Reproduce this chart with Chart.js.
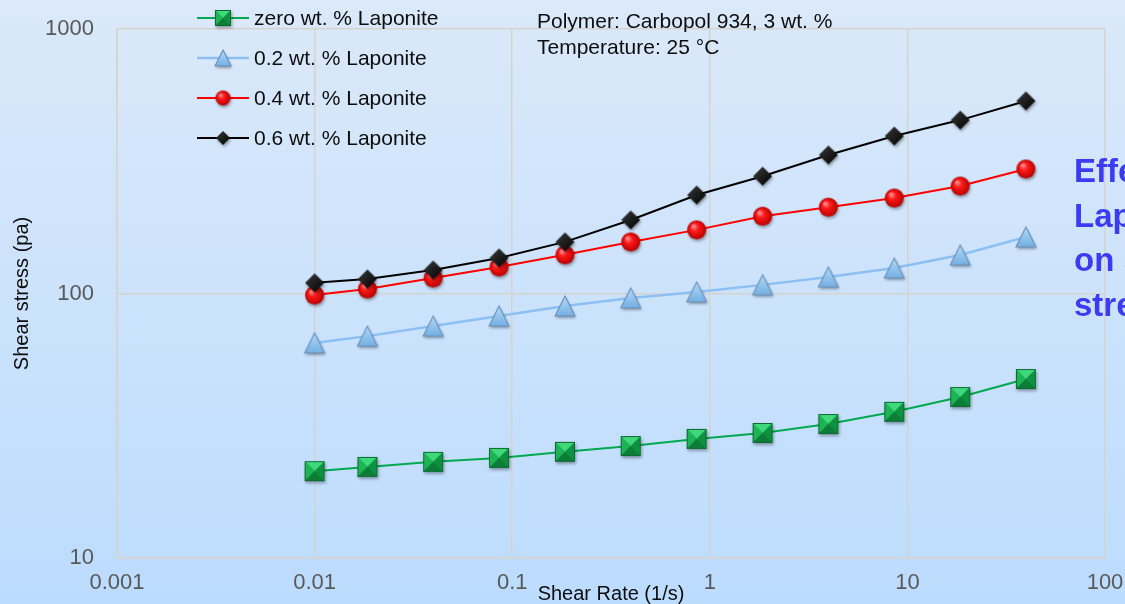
<!DOCTYPE html>
<html>
<head>
<meta charset="utf-8">
<title>Shear stress vs shear rate</title>
<script src="https://cdn.jsdelivr.net/npm/chart.js@4/dist/chart.umd.min.js"></script>
<style>
  html, body { margin: 0; padding: 0; background: #cfe3fb; }
  #wrap { width: 1125px; height: 604px; }
</style>
</head>
<body>
<div id="wrap"><canvas id="chart" width="1125" height="604"></canvas></div>
<script>
// Shear rate (1/s) at which each stress was measured
const shearRate = [0.01, 0.0185, 0.0398, 0.0858, 0.185, 0.398, 0.858, 1.85, 3.98, 8.58, 18.5, 39.8];

// Shear stress (Pa) for each Laponite loading
const stressZero = [21.3, 22.1, 23.1, 23.9, 25.2, 26.5, 28.2, 29.7, 32.1, 35.7, 40.6, 47.5];
const stress02 = [65.0, 69.0, 75.3, 82.2, 89.7, 96.2, 101.4, 107.8, 115.4, 124.8, 139.8, 163.6];
const stress04 = [98.7, 104, 114.5, 126, 140, 156.7, 174, 196, 212, 229.6, 254.8, 295.6];
const stress06 = [109.7, 113.5, 122.7, 136.3, 156.7, 189.7, 235.6, 277.7, 334, 393.9, 452.5, 534.6];

const seriesLabels = ['zero wt. % Laponite', '0.2 wt. % Laponite', '0.4 wt. % Laponite', '0.6 wt. % Laponite'];

// Axis ticks
const xTickValues = [0.001, 0.01, 0.1, 1, 10, 100];
const xTickLabels = ['0.001', '0.01', '0.1', '1', '10', '100'];
const yTickValues = [10, 100, 1000];
const yTickLabels = ['10', '100', '1000'];

const xTitle = 'Shear Rate (1/s)';
const yTitle = 'Shear stress (pa)';
const noteLines = ['Polymer: Carbopol 934, 3 wt. %', 'Temperature: 25 \u00B0C'];
const sideTitleLines = ['Effect of', 'Laponite', 'on shear', 'stress'];

const FONT = "'Liberation Sans', Arial, Helvetica, sans-serif";

// ---- Bevelled marker images ----
function markerCanvas(kind, s) {
  const pad = 6;
  const c = document.createElement('canvas');
  c.width = s + pad * 2;
  c.height = s + pad * 2;
  const g = c.getContext('2d');
  const cx = c.width / 2, cy = c.height / 2, h = s / 2;
  g.save();
  g.shadowColor = 'rgba(0,0,0,0.35)';
  g.shadowBlur = 3;
  g.shadowOffsetX = 1;
  g.shadowOffsetY = 2;
  if (kind === 'square') {
    g.fillStyle = '#109a45';
    g.fillRect(cx - h, cy - h, s, s);
    g.restore();
    const facets = [
      ['#3fd97b', [[-h, -h], [h, -h]]],
      ['#1cb455', [[-h, -h], [-h, h]]],
      ['#0f9142', [[h, -h], [h, h]]],
      ['#0b7d37', [[-h, h], [h, h]]]
    ];
    facets.forEach(([col, [a, b]]) => {
      g.beginPath();
      g.moveTo(cx + a[0], cy + a[1]);
      g.lineTo(cx + b[0], cy + b[1]);
      g.lineTo(cx, cy);
      g.closePath();
      g.fillStyle = col;
      g.fill();
    });
    g.strokeStyle = '#0b6a30';
    g.lineWidth = 1;
    g.strokeRect(cx - h + 0.5, cy - h + 0.5, s - 1, s - 1);
  } else if (kind === 'triangle') {
    g.beginPath();
    g.moveTo(cx, cy - h);
    g.lineTo(cx + h, cy + h);
    g.lineTo(cx - h, cy + h);
    g.closePath();
    const gr = g.createLinearGradient(0, cy - h, 0, cy + h);
    gr.addColorStop(0, '#b3daf9');
    gr.addColorStop(1, '#74afe3');
    g.fillStyle = gr;
    g.fill();
    g.restore();
    g.strokeStyle = '#6a90b8';
    g.lineWidth = 1.1;
    g.stroke();
  } else if (kind === 'circle') {
    g.beginPath();
    g.arc(cx, cy, h, 0, Math.PI * 2);
    const gr = g.createRadialGradient(cx - h * 0.35, cy - h * 0.4, h * 0.1, cx, cy, h);
    gr.addColorStop(0, '#ff8a8a');
    gr.addColorStop(0.35, '#ff1a1a');
    gr.addColorStop(1, '#b80000');
    g.fillStyle = gr;
    g.fill();
    g.restore();
  } else if (kind === 'diamond') {
    g.beginPath();
    g.moveTo(cx, cy - h);
    g.lineTo(cx + h, cy);
    g.lineTo(cx, cy + h);
    g.lineTo(cx - h, cy);
    g.closePath();
    const gr = g.createLinearGradient(cx - h, cy - h, cx + h, cy + h);
    gr.addColorStop(0, '#3a3a3a');
    gr.addColorStop(1, '#000000');
    g.fillStyle = gr;
    g.fill();
    g.restore();
  }
  return c;
}

const seriesStyle = [
  { color: '#00a84f', width: 2, kind: 'square', size: 20, legendSize: 16 },
  { color: '#8cc0f4', width: 2.5, kind: 'triangle', size: 20, legendSize: 16 },
  { color: '#ff0000', width: 2, kind: 'circle', size: 19, legendSize: 15 },
  { color: '#000000', width: 2, kind: 'diamond', size: 19, legendSize: 14 }
];
const chartMarkers = seriesStyle.map(s => markerCanvas(s.kind, s.size));
const legendMarkers = seriesStyle.map(s => markerCanvas(s.kind, s.legendSize));

const seriesValues = [stressZero, stress02, stress04, stress06];

const datasets = seriesValues.map((vals, i) => ({
  label: seriesLabels[i],
  data: shearRate.map((x, k) => ({ x: x, y: vals[k] })),
  borderColor: seriesStyle[i].color,
  backgroundColor: seriesStyle[i].color,
  borderWidth: seriesStyle[i].width,
  pointStyle: chartMarkers[i],
  pointRadius: 10,
  pointHoverRadius: 10,
  tension: 0,
  order: 4 - i
}));

// ---- Page background ----
const backgroundPlugin = {
  id: 'pageBackground',
  beforeDraw(chart) {
    const { ctx, width, height } = chart;
    const gr = ctx.createLinearGradient(0, 0, 0, height);
    gr.addColorStop(0, '#dbe9f9');
    gr.addColorStop(1, '#bcdcfe');
    ctx.save();
    ctx.fillStyle = gr;
    ctx.fillRect(0, 0, width, height);
    ctx.restore();
  }
};

// ---- Legend, notes and axis titles ----
const textPlugin = {
  id: 'chartTexts',
  afterDraw(chart) {
    const { ctx, chartArea } = chart;
    ctx.save();

    // Legend
    const rowY = [18, 58, 98, 138];
    chart.data.datasets.forEach((ds, i) => {
      const y = rowY[i];
      ctx.strokeStyle = ds.borderColor;
      ctx.lineWidth = ds.borderWidth;
      ctx.beginPath();
      ctx.moveTo(197, y);
      ctx.lineTo(249, y);
      ctx.stroke();
      const m = legendMarkers[i];
      ctx.drawImage(m, 223 - m.width / 2, y - m.height / 2);
      ctx.fillStyle = '#0d0d0d';
      ctx.font = '21px ' + FONT;
      ctx.textAlign = 'left';
      ctx.textBaseline = 'middle';
      ctx.fillText(ds.label, 254, y + 1);
    });

    // Test conditions
    ctx.fillStyle = '#0d0d0d';
    ctx.font = '21px ' + FONT;
    ctx.textAlign = 'left';
    ctx.textBaseline = 'middle';
    noteLines.forEach((t, i) => ctx.fillText(t, 537, 22 + i * 26));

    // Axis titles
    ctx.font = '20px ' + FONT;
    ctx.textAlign = 'center';
    ctx.fillText(xTitle, (chartArea.left + chartArea.right) / 2, 594);
    ctx.save();
    ctx.translate(22, (chartArea.top + chartArea.bottom) / 2);
    ctx.rotate(-Math.PI / 2);
    ctx.fillText(yTitle, 0, 0);
    ctx.restore();

    // Side title
    ctx.fillStyle = '#3b3bf2';
    ctx.font = 'bold 33px ' + FONT;
    ctx.textAlign = 'left';
    ctx.textBaseline = 'alphabetic';
    sideTitleLines.forEach((t, i) => ctx.fillText(t, 1074, 182 + i * 44.5));

    ctx.restore();
  }
};

const gridColor = '#d6d3cf';

new Chart(document.getElementById('chart'), {
  type: 'line',
  data: { datasets: datasets },
  options: {
    responsive: false,
    devicePixelRatio: 1,
    animation: false,
    layout: { padding: { top: 29, right: 20, left: 0, bottom: 0 } },
    plugins: {
      legend: { display: false },
      tooltip: { enabled: false },
      title: { display: false }
    },
    scales: {
      x: {
        type: 'logarithmic',
        min: 0.001,
        max: 100,
        afterBuildTicks(scale) { scale.ticks = xTickValues.map(v => ({ value: v })); },
        afterFit(scale) {
          scale.height = 46;
          scale.paddingLeft = 0;
          scale.paddingRight = 0;
        },
        grid: { color: gridColor, lineWidth: 1.5, drawTicks: false },
        border: { display: true, color: gridColor, width: 1.5 },
        ticks: {
          autoSkip: false,
          maxRotation: 0,
          padding: 12,
          color: '#595959',
          font: { family: FONT, size: 22 },
          callback: (v, i) => xTickLabels[i]
        }
      },
      y: {
        type: 'logarithmic',
        min: 10,
        max: 1000,
        afterBuildTicks(scale) { scale.ticks = yTickValues.map(v => ({ value: v })); },
        afterFit(scale) {
          scale.width = 117;
          scale.paddingTop = 0;
          scale.paddingBottom = 0;
        },
        grid: { color: gridColor, lineWidth: 1.5, drawTicks: false },
        border: { display: true, color: gridColor, width: 1.5 },
        ticks: {
          autoSkip: false,
          padding: 23,
          color: '#595959',
          font: { family: FONT, size: 22 },
          callback: (v, i) => yTickLabels[i]
        }
      }
    }
  },
  plugins: [backgroundPlugin, textPlugin]
});
</script>
</body>
</html>
